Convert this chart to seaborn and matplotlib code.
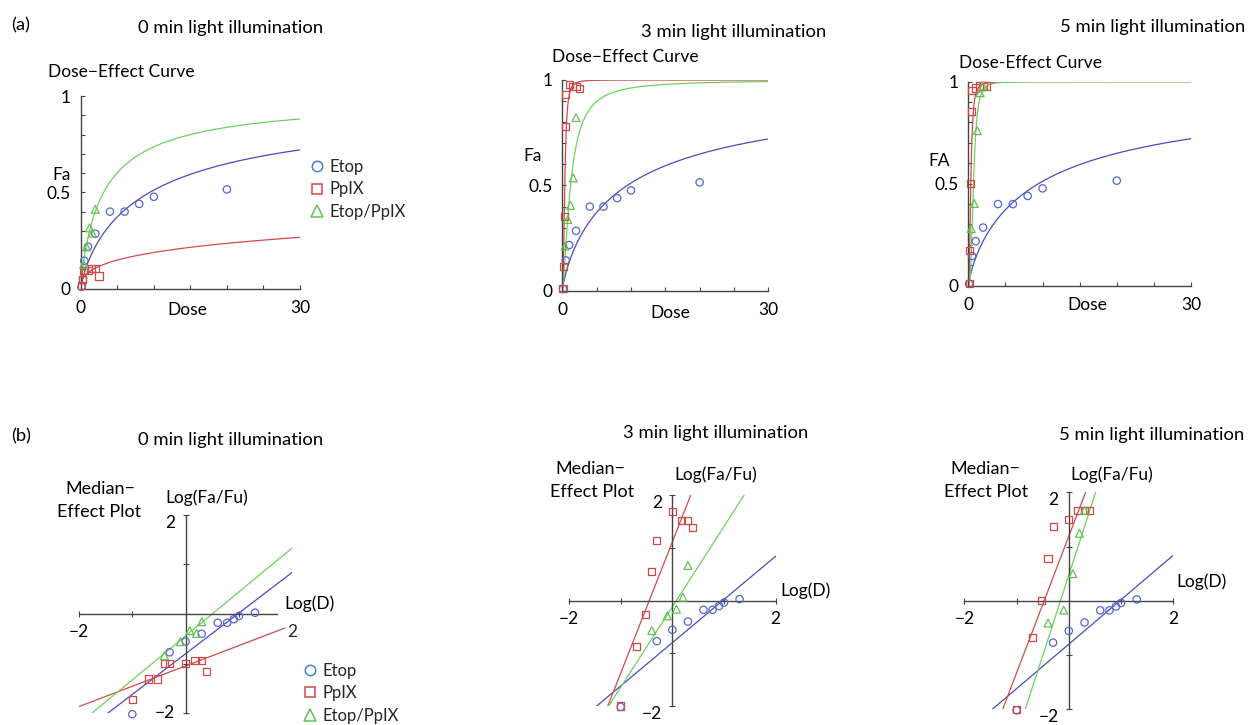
import numpy as np
import pandas as pd
import matplotlib
matplotlib.use("Agg")
import matplotlib.pyplot as plt
import seaborn as sns
from matplotlib.lines import Line2D

sns.set_theme(style="ticks")
plt.rcParams["font.family"] = ["Lato", "DejaVu Sans"]

# ---------------- data ----------------
panel_titles = ["0 min light illumination", "3 min light illumination", "5 min light illumination"]
fa_labels = ["Fa", "Fa", "FA"]
curve_titles = ["Dose\u2212Effect Curve", "Dose\u2212Effect Curve", "Dose-Effect Curve"]
drug_names = ["Etop", "PpIX", "Etop/PpIX"]

etop_dose = [0.1, 0.5, 1, 2, 4, 6, 8, 10, 20]
etop_fa = [0.0095, 0.145, 0.218, 0.285, 0.40, 0.40, 0.44, 0.477, 0.515]

ppix_dose = [0.1, 0.2, 0.3, 0.4, 0.5, 1.0, 1.5, 2.0, 2.5]
ppix_fa_0 = [0.0183, 0.0467, 0.0467, 0.093, 0.093, 0.093, 0.105, 0.105, 0.066]
ppix_fa_3 = [0.0099, 0.118, 0.352, 0.778, 0.931, 0.980, 0.970, 0.970, 0.961]
ppix_fa_5 = [0.0099, 0.174, 0.50, 0.856, 0.959, 0.969, 0.979, 0.979, 0.979]

combo_dose = [0.4, 0.8, 1.2, 1.6, 2.0]
combo_fa_0 = [0.126, 0.217, 0.316, 0.289, 0.412]
combo_fa_3 = [0.212, 0.339, 0.406, 0.536, 0.822]
combo_fa_5 = [0.28, 0.403, 0.76, 0.946, 0.979]

# median-effect parameters (slope m, median dose Dm) for each illumination time
etop_m = [0.82, 0.82, 0.82]
etop_dm = [9.45, 9.45, 9.45]
ppix_m = [0.41, 2.49, 2.52]
ppix_dm = [354.0, 0.358, 0.337]
combo_m = [0.886, 1.525, 2.97]
combo_dm = [3.14, 1.20, 0.693]
ppix_logd_max = [1.86, 2.0, 2.0]

# ---------------- styling ----------------
C_BLUE_M, C_BLUE_L, C_BLUE_LEG = "#5566cc", "#4a4ac2", "#3d85d6"
C_RED_M, C_RED_L = "#d04848", "#d04a4a"
C_GREEN_M, C_GREEN_L = "#66c055", "#6ad35e"
AX_COL = "#444444"
FS = 12.5
FS_T = 13.3
FS_SUB = 12.5
FS_LEG = 12

series = [
    dict(name="Etop", dose=etop_dose, fa=[etop_fa, etop_fa, etop_fa], m=etop_m, dm=etop_dm,
         marker="o", s=28, mcol=C_BLUE_M, lcol=C_BLUE_L, xmax=[2, 2, 2]),
    dict(name="PpIX", dose=ppix_dose, fa=[ppix_fa_0, ppix_fa_3, ppix_fa_5], m=ppix_m, dm=ppix_dm,
         marker="s", s=26, mcol=C_RED_M, lcol=C_RED_L, xmax=ppix_logd_max),
    dict(name="Etop/PpIX", dose=combo_dose, fa=[combo_fa_0, combo_fa_3, combo_fa_5], m=combo_m, dm=combo_dm,
         marker="^", s=32, mcol=C_GREEN_M, lcol=C_GREEN_L, xmax=[2, 2, 2]),
]

W, H = 1249, 725
fig = plt.figure(figsize=(W / 100, H / 100), dpi=100)


def rect(x0, x1, ytop, ybot):
    return [x0 / W, 1 - ybot / H, (x1 - x0) / W, (ybot - ytop) / H]


def ftext(x, y, s, fs=FS, **kw):
    fig.text(x / W, 1 - y / H, s, ha=kw.pop("ha", "center"), va=kw.pop("va", "center"),
             fontsize=fs, color="black", **kw)


a_rects = [rect(80.7, 300, 96, 288.7), rect(562.3, 768.3, 80, 291), rect(968.3, 1191, 81.7, 285.7)]
b_rects = [rect(79, 292.3, 514.7, 713.3), rect(569, 775.7, 495, 706), rect(964.3, 1173.3, 492.3, 709.3)]

d_curve = np.concatenate([np.geomspace(1e-3, 1, 300), np.linspace(1, 30, 300)[1:]])

for i in range(3):
    # ---------- (a) dose-effect curves ----------
    ax = fig.add_axes(a_rects[i])
    ax.patch.set_alpha(0)
    for k in [0, 1, 2]:
        sr = series[k]
        fa_c = 1.0 / (1.0 + (sr["dm"][i] / d_curve) ** sr["m"][i])
        sns.lineplot(x=d_curve, y=fa_c, color=sr["lcol"], linewidth=0.9, ax=ax,
                     sort=False, estimator=None, legend=False, zorder=2)
    for k in [0, 1, 2]:
        sr = series[k]
        sns.scatterplot(x=sr["dose"], y=sr["fa"][i], marker=sr["marker"], s=sr["s"],
                        facecolor="none", edgecolor=sr["mcol"], linewidth=0.9, ax=ax,
                        legend=False, clip_on=False, zorder=3)
    ax.set_xlim(0, 30)
    ax.set_ylim(0, 1)
    for sp in ["top", "right"]:
        ax.spines[sp].set_visible(False)
    for sp in ["left", "bottom"]:
        ax.spines[sp].set_color(AX_COL)
        ax.spines[sp].set_linewidth(1.0)
    ax.set_xticks([0, 5, 10, 15, 20, 25, 30])
    ax.set_xticklabels(["0", "", "", "", "", "", "30"])
    ax.set_yticks([0, 0.5, 1])
    ax.set_yticklabels(["0", "0.5", "1"])
    ax.set_yticks(np.arange(0, 1.01, 0.1), minor=True)
    ax.tick_params(axis="both", which="both", direction="in", length=3, width=0.8,
                   color=AX_COL, labelsize=FS, labelcolor="black")
    ax.tick_params(axis="x", pad=8)
    ax.tick_params(axis="y", pad=7)
    ax.set_xlabel("")
    ax.set_ylabel("")

    # ---------- (b) median-effect plots ----------
    bx = fig.add_axes(b_rects[i])
    bx.patch.set_alpha(0)
    for k in [0, 1, 2]:
        sr = series[k]
        m, ldm = sr["m"][i], np.log10(sr["dm"][i])
        x_lo = max(-2.0, ldm - 2.0 / m)
        x_hi = min(sr["xmax"][i], ldm + 2.0 / m)
        xs = np.linspace(x_lo, x_hi, 50)
        sns.lineplot(x=xs, y=m * (xs - ldm), color=sr["lcol"], linewidth=0.9, ax=bx,
                     sort=False, estimator=None, legend=False, zorder=2)
    for k in [0, 1, 2]:
        sr = series[k]
        dd = np.array(sr["dose"], float)
        ff = np.array(sr["fa"][i], float)
        sns.scatterplot(x=np.log10(dd), y=np.log10(ff / (1 - ff)), marker=sr["marker"], s=sr["s"],
                        facecolor="none", edgecolor=sr["mcol"], linewidth=0.9, ax=bx,
                        legend=False, clip_on=False, zorder=3)
    bx.set_xlim(-2, 2)
    bx.set_ylim(-2, 2)
    for sp in ["top", "right"]:
        bx.spines[sp].set_visible(False)
    for sp in ["left", "bottom"]:
        bx.spines[sp].set_position(("data", 0))
        bx.spines[sp].set_color(AX_COL)
        bx.spines[sp].set_linewidth(1.0)
    x_end = 1.71 if i == 0 else 2.0
    bx.spines["bottom"].set_bounds(-2, x_end)
    bx.spines["left"].set_bounds(-2, 2)
    if i == 0:
        bx.set_xticks([-2, -1, 1])
        bx.set_xticklabels(["\u22122", "", ""])
        bx.annotate("2", xy=(2, 0), xycoords="data", xytext=(0, -13), textcoords="offset points",
                    ha="center", va="center", fontsize=FS)
    else:
        bx.set_xticks([-2, -1, 1, 2])
        bx.set_xticklabels(["\u22122", "", "", "2"])
    bx.set_yticks([-2, -1, 1, 2])
    bx.set_yticklabels(["\u22122", "", "", "2"])
    ylbls = bx.get_yticklabels()
    for lbl in ylbls:
        lbl.set_va("top")
    if i == 0:
        ylbls[0].set_va("center")
    bx.tick_params(axis="both", which="both", direction="inout", length=5, width=0.8,
                   color=AX_COL, labelsize=FS, labelcolor="black")
    bx.tick_params(axis="x", pad=5)
    bx.tick_params(axis="y", pad=5)
    bx.set_xlabel("")
    bx.set_ylabel("")

    if i == 0:
        handles = [Line2D([], [], ls="", marker="o", mfc="none", mec=C_BLUE_LEG, ms=7.5, mew=1.1, label="Etop"),
                   Line2D([], [], ls="", marker="s", mfc="none", mec=C_RED_M, ms=7, mew=1.1, label="PpIX"),
                   Line2D([], [], ls="", marker="^", mfc="none", mec=C_GREEN_M, ms=8, mew=1.1, label="Etop/PpIX")]
        for (lx, ly) in [(310, 159), (303.5, 663)]:
            fig.legend(handles=handles, loc="upper left", bbox_to_anchor=(lx / W, 1 - ly / H),
                       bbox_transform=fig.transFigure, frameon=False, fontsize=FS_LEG,
                       handlelength=0.8, handletextpad=0.35, labelspacing=0.38, borderpad=0,
                       borderaxespad=0)

# ---------------- texts ----------------
ftext(21, 25, "(a)", FS_T)
ftext(21, 436.7, "(b)", FS_T)
for (x, y), s in zip([(230.8, 28.3), (733.5, 31.7), (1152.5, 26.7)], panel_titles):
    ftext(x, y, s, FS_T)
for (x, y), s in zip([(230.8, 440), (715.8, 433.3), (1152, 435)], panel_titles):
    ftext(x, y, s, FS_T)
for (x, y), s in zip([(121.7, 71.7), (625, 56.7), (1030.3, 63.3)], curve_titles):
    ftext(x, y, s, FS_SUB)
for (x, y), s in zip([(61.7, 175), (532.7, 156), (939.3, 161)], fa_labels):
    ftext(x, y, s, FS)
for (x, y) in [(187.5, 310), (670.8, 313.3), (1087, 305)]:
    ftext(x, y, "Dose", FS)
for (x, y) in [(100, 489), (590.8, 469), (985.8, 469)]:
    ftext(x, y, "Median\u2212", 13)
for (x, y) in [(98.8, 512.3), (591.7, 491.7), (985.8, 491.7)]:
    ftext(x, y, "Effect Plot", 13)
for (x, y) in [(206.7, 497.3), (716.2, 475), (1111.7, 474.3)]:
    ftext(x, y, "Log(Fa/Fu)", FS)
for (x, y) in [(310, 603.3), (806, 591), (1201.3, 581.7)]:
    ftext(x, y, "Log(D)", FS)

fig.savefig("out.png", dpi=100, facecolor="white")
